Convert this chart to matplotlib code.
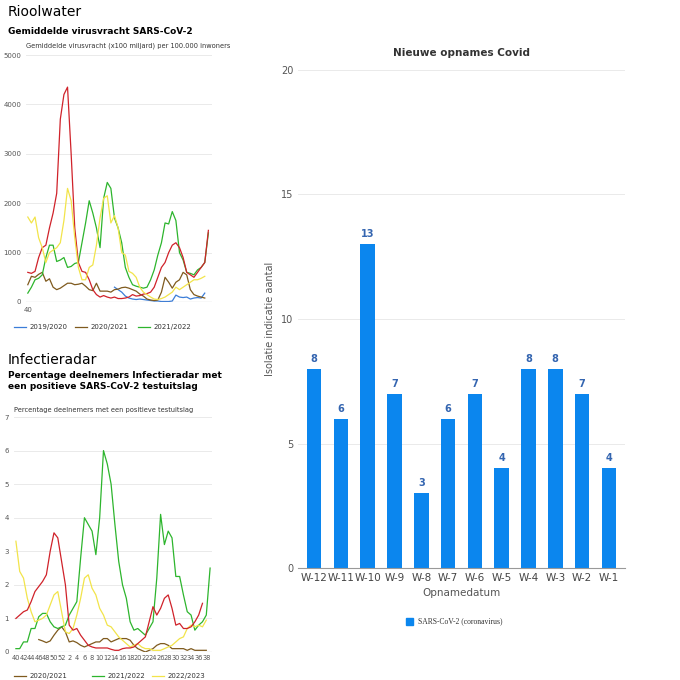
import matplotlib.pyplot as plt
import numpy as np

# Rioolwater series (weekly, starting week 40)
riool_1920 = [None]*24 + [300, 250, 200, 120, 80, 60, 50, 60, 50, 40, 30, 20, 20, 10, 10, 10, 20, 140, 100, 90, 100, 60, 80, 90, 80, 180]
riool_2021 = [350, 520, 500, 560, 600, 420, 470, 300, 250, 280, 330, 380, 380, 350, 360, 380, 320, 250, 230, 380, 220, 220, 220, 200, 250, 260, 290, 300, 280, 250, 220, 160, 120, 60, 40, 30, 40, 200, 500, 400, 280, 400, 450, 600, 550, 250, 150, 120, 100, 80]
riool_2122 = [180, 300, 450, 480, 550, 900, 1150, 1150, 820, 850, 900, 700, 720, 780, 800, 1200, 1600, 2050, 1800, 1500, 1100, 2100, 2420, 2300, 1700, 1500, 1200, 700, 500, 350, 320, 300, 280, 300, 450, 650, 950, 1200, 1600, 1580, 1830, 1650, 1000, 850, 600, 580, 550, 650, 700, 800, 1400]
riool_red = [600, 580, 620, 900, 1100, 1150, 1500, 1800, 2200, 3700, 4200, 4350, 3000, 1500, 800, 620, 600, 450, 250, 150, 100, 130, 100, 80, 100, 70, 70, 80, 100, 150, 120, 130, 160, 170, 200, 300, 500, 700, 800, 1000, 1150, 1200, 1100, 900, 600, 550, 500, 600, 700, 800, 1450]
riool_yellow = [1720, 1600, 1720, 1300, 1100, 800, 1000, 1050, 1100, 1200, 1650, 2300, 2050, 1300, 700, 450, 450, 700, 750, 1150, 1700, 2100, 2150, 1600, 1750, 1500, 1000, 950, 620, 580, 500, 300, 200, 150, 100, 60, 50, 70, 100, 150, 200, 300, 250, 300, 350, 400, 450, 450, 480, 520]

# Infectieradar series (weeks 40..39)
inf_weeks = [40, 42, 44, 46, 48, 50, 52, 2, 4, 6, 8, 10, 12, 14, 16, 18, 20, 22, 24, 26, 28, 30, 32, 34, 36, 38]
inf_2021 = [None]*6 + [0.37, 0.33, 0.28, 0.33, 0.5, 0.65, 0.75, 0.6, 0.3, 0.33, 0.28, 0.2, 0.15, 0.2, 0.25, 0.3, 0.3, 0.4, 0.4, 0.3, 0.35, 0.4, 0.4, 0.4, 0.35, 0.2, 0.1, 0.05, 0.0, 0.05, 0.1, 0.2, 0.25, 0.25, 0.2, 0.1, 0.1, 0.1, 0.1, 0.05, 0.1, 0.05, 0.05, 0.05, 0.05]
inf_2122 = [0.1, 0.1, 0.3, 0.3, 0.7, 0.7, 1.05, 1.15, 1.15, 0.9, 0.75, 0.7, 0.75, 0.8, 1.1, 1.3, 1.5, 2.8, 4.0, 3.8, 3.6, 2.9, 4.0, 6.0, 5.6, 5.0, 3.8, 2.7, 2.0, 1.6, 0.9, 0.65, 0.7, 0.6, 0.5, 0.7, 0.9, 2.2, 4.1, 3.2, 3.6, 3.4, 2.25, 2.25, 1.7, 1.2, 1.1, 0.65, 0.8, 0.9, 1.1, 2.5]
inf_2223 = [3.3, 2.4, 2.2, 1.6, 1.2, 0.9, 0.95, 1.0, 1.1, 1.4, 1.7, 1.8, 1.2, 0.6, 0.55, 0.7, 1.1, 1.6, 2.2, 2.3, 1.9, 1.7, 1.3, 1.1, 0.8, 0.75, 0.6, 0.45, 0.35, 0.25, 0.15, 0.2, 0.25, 0.15, 0.1, 0.1, 0.05, 0.05, 0.05, 0.1, 0.15, 0.2, 0.3, 0.4, 0.45, 0.7, 0.8, 0.75, 0.8, 0.75, 0.95]
inf_red = [1.0, 1.1, 1.2, 1.25, 1.5, 1.8, 1.95, 2.1, 2.3, 3.0, 3.55, 3.4, 2.7, 2.0, 0.8, 0.65, 0.7, 0.5, 0.35, 0.2, 0.15, 0.12, 0.12, 0.12, 0.12, 0.08, 0.05, 0.05, 0.1, 0.12, 0.12, 0.15, 0.25, 0.35, 0.45, 0.9, 1.35, 1.1, 1.3, 1.6, 1.7, 1.3, 0.8, 0.85, 0.7, 0.7, 0.75, 0.9, 1.1, 1.45]

# Opnames
weeks = ['W-12', 'W-11', 'W-10', 'W-9', 'W-8', 'W-7', 'W-6', 'W-5', 'W-4', 'W-3', 'W-2', 'W-1']
opnames = [8, 6, 13, 7, 3, 6, 7, 4, 8, 8, 7, 4]

fig = plt.figure(figsize=(6.8, 6.8), dpi=100)
W = H = 680.0

def axes_px(x0, y0, x1, y1):
    return fig.add_axes([x0 / W, 1 - y1 / H, (x1 - x0) / W, (y1 - y0) / H])

def style_small(ax):
    for s in ax.spines.values():
        s.set_visible(False)
    ax.grid(axis='y', color='#e6e6e6', lw=0.6)
    ax.set_axisbelow(True)
    ax.tick_params(length=0, labelsize=5, colors='#555555')

def ser(ax, vals, color):
    y = np.array([np.nan if v is None else v for v in vals], dtype=float)
    ax.plot(np.arange(len(y)), y, color=color, lw=0.9)

# Riool
fig.text(8 / W, 1 - 12 / H, 'Riolwater'.replace('Riol', 'Riool'), fontsize=10, va='center')
fig.text(8 / W, 1 - 32 / H, 'Gemiddelde virusvracht SARS-CoV-2', fontsize=6.5, weight='bold', va='center')
ax1 = axes_px(26, 55, 212, 302)
style_small(ax1)
ser(ax1, riool_1920, '#3b7dd8')
ser(ax1, riool_2021, '#7f5a1e')
ser(ax1, riool_2122, '#2db52d')
ser(ax1, riool_red, '#d0222a')
ser(ax1, riool_yellow, '#f2e44a')
ax1.axhline(0, color='#888888', lw=0.8)
ax1.set_ylim(0, 5000)
ax1.set_yticks(range(0, 5001, 1000))
ax1.set_xlim(-0.5, 51)
ax1.set_xticks([0])
ax1.set_xticklabels(['40'])
ax1.text(0.0, 1.03, 'Gemiddelde virusvracht (x100 miljard) per 100.000 inwoners', transform=ax1.transAxes, fontsize=4.8, color='#333333')
for x0, lab, c in [(14, '2019/2020', '#3b7dd8'), (75, '2020/2021', '#7f5a1e'), (138, '2021/2022', '#2db52d')]:
    fig.lines.append(plt.Line2D([x0 / W, (x0 + 12) / W], [1 - 327 / H] * 2, color=c, lw=0.9, transform=fig.transFigure))
    fig.text((x0 + 16) / W, 1 - 327 / H, lab, fontsize=5, va='center', color='#333333')

# Infectieradar
fig.text(8 / W, 1 - 360 / H, 'Infectieradar', fontsize=10, va='center')
fig.text(8 / W, 1 - 381 / H, 'Percentage deelnemers Infectieradar met\neen positieve SARS-CoV-2 testuitslag', fontsize=6.5, weight='bold', va='center', linespacing=1.4)
ax2 = axes_px(14, 417, 212, 652)
style_small(ax2)
ser(ax2, inf_2021, '#7f5a1e')
ser(ax2, inf_2122, '#2db52d')
ser(ax2, inf_2223, '#f2e44a')
ser(ax2, inf_red, '#d0222a')
ax2.axhline(0, color='#888888', lw=0.8)
ax2.set_ylim(0, 7)
ax2.set_xlim(-0.5, 51.5)
ax2.set_xticks(np.arange(0, 52, 2))
ax2.set_xticklabels([str(w) for w in inf_weeks])
ax2.tick_params(axis='x', labelsize=4.8, pad=2)
ax2.text(0.0, 1.02, 'Percentage deelnemers met een positieve testuitslag', transform=ax2.transAxes, fontsize=4.8, color='#333333')
for x0, lab, c in [(14, '2020/2021', '#7f5a1e'), (92, '2021/2022', '#2db52d'), (152, '2022/2023', '#f2e44a')]:
    fig.lines.append(plt.Line2D([x0 / W, (x0 + 12) / W], [1 - 676 / H] * 2, color=c, lw=0.9, transform=fig.transFigure))
    fig.text((x0 + 16) / W, 1 - 676 / H, lab, fontsize=5, va='center', color='#333333')

# Opnames
ax3 = axes_px(298, 70, 625, 568)
for s in ['top', 'right', 'left']:
    ax3.spines[s].set_visible(False)
ax3.spines['bottom'].set_color('#999999')
ax3.grid(axis='y', color='#e6e6e6', lw=0.6)
ax3.set_axisbelow(True)
x = np.arange(len(weeks))
bars = ax3.bar(x, opnames, width=0.55, color='#0b86ee')
for xi, v in zip(x, opnames):
    ax3.text(xi, v + 0.2, str(v), ha='center', va='bottom', fontsize=7, weight='bold', color='#3465b0')
ax3.set_xticks(x)
ax3.set_xticklabels(weeks)
ax3.set_xlim(-0.6, len(weeks) - 0.4)
ax3.set_ylim(0, 20)
ax3.set_yticks([0, 5, 10, 15, 20])
ax3.tick_params(length=0, labelsize=7, colors='#555555')
ax3.tick_params(axis='x', labelsize=7.5, colors='#444444')
ax3.set_ylabel('Isolatie indicatie aantal', fontsize=7, color='#555555')
ax3.set_xlabel('Opnamedatum', fontsize=7.5, color='#555555')
ax3.set_title('Nieuwe opnames Covid', fontsize=7.5, weight='bold', color='#333333', pad=10)
fig.patches.append(plt.Rectangle((406 / W, 1 - 625 / H), 7 / W, 7 / H, color='#0b86ee', transform=fig.transFigure))
fig.text(418 / W, 1 - 621 / H, 'SARS-CoV-2 (coronavirus)', fontsize=5.5, family='Liberation Serif', va='center', color='#333333')

fig.savefig('out.png', dpi=100)
